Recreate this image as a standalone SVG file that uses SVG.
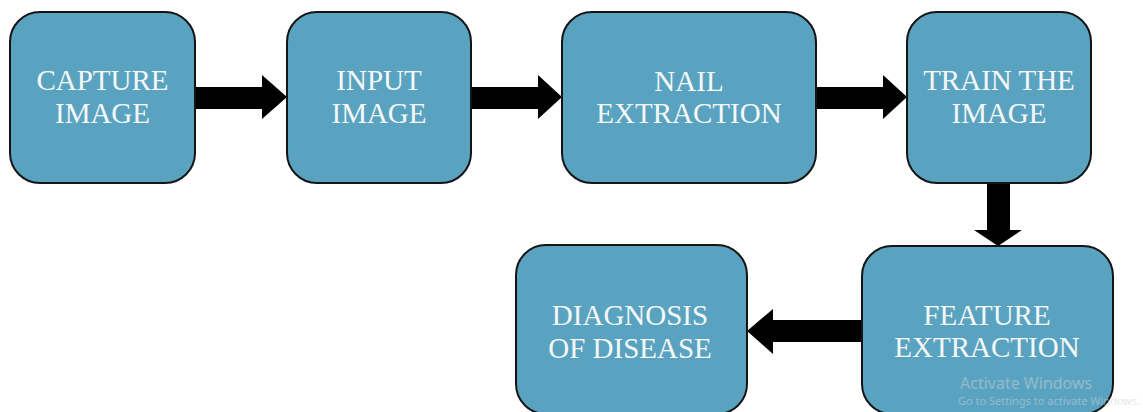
<svg xmlns="http://www.w3.org/2000/svg" width="1143" height="412" viewBox="0 0 1143 412">
<defs>
<style>
.box{fill:#5aa3c0;stroke:#141414;stroke-width:2}
.lbl{font-family:"Liberation Serif","Times New Roman",serif;font-size:29px;fill:#f4f8f8;text-anchor:middle}
.arr{fill:#000}
.wm1{font-family:"Noto Sans","Liberation Sans",sans-serif;font-size:16px;fill:#c9d3d8;opacity:0.5}
.wm2{font-family:"Noto Sans","Liberation Sans",sans-serif;font-size:11px;fill:#c9d3d8;opacity:0.5}
</style>
</defs>
<rect width="1143" height="412" fill="#fff"/>
<g id="connectors">
<polygon class="arr" points="195,87 262,87 262,75 287,97 262,119 262,109 195,109"/>
<polygon class="arr" points="471,87 538,87 538,75 562,97 538,119 538,109 471,109"/>
<polygon class="arr" points="816,87 883,87 883,75 907,97 883,119 883,109 816,109"/>
<polygon class="arr" points="987,183 1010,183 1010,230 1022,230 998,246 974,230 987,230"/>
<polygon class="arr" points="862,320 773,320 773,309 747,331 773,354 773,342 862,342"/>
</g>
<g id="capture">
<rect class="box" x="10" y="12" width="185" height="171" rx="30"/>
<text class="lbl" x="102.5" y="90">CAPTURE</text>
<text class="lbl" x="102.5" y="123">IMAGE</text>
</g>
<g id="input">
<rect class="box" x="287" y="12" width="184" height="171" rx="30"/>
<text class="lbl" x="379" y="90">INPUT</text>
<text class="lbl" x="379" y="123">IMAGE</text>
</g>
<g id="nail">
<rect class="box" x="562" y="12" width="254" height="171" rx="30"/>
<text class="lbl" x="689" y="91">NAIL</text>
<text class="lbl" x="689" y="123">EXTRACTION</text>
</g>
<g id="train">
<rect class="box" x="907" y="12" width="184" height="171" rx="30"/>
<text class="lbl" x="999" y="90">TRAIN THE</text>
<text class="lbl" x="999" y="123">IMAGE</text>
</g>
<g id="feature">
<rect class="box" x="862" y="246" width="251" height="168" rx="30"/>
<text class="lbl" x="987" y="325">FEATURE</text>
<text class="lbl" x="987" y="357">EXTRACTION</text>
</g>
<g id="diagnosis">
<rect class="box" x="516" y="245" width="231" height="169" rx="30"/>
<text class="lbl" x="630" y="325">DIAGNOSIS</text>
<text class="lbl" x="630" y="358">OF DISEASE</text>
</g>
<g id="watermark">
<text class="wm1" x="960" y="389">Activate Windows</text>
<text class="wm2" x="958" y="405">Go to Settings to activate Windows.</text>
</g>
</svg>
